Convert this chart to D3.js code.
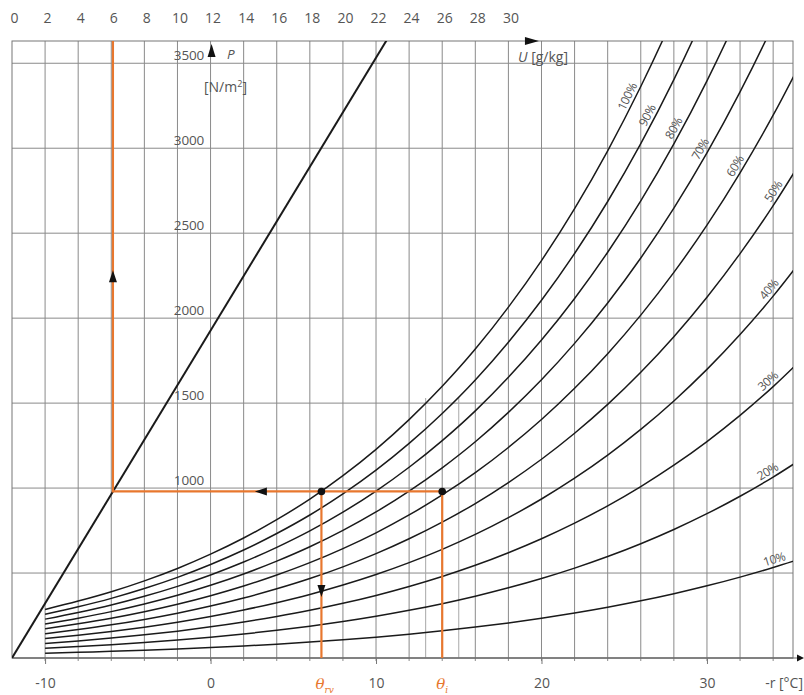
<!DOCTYPE html>
<html>
<head>
<meta charset="utf-8">
<script src="https://cdn.jsdelivr.net/npm/d3@7"></script>
<style>
  body { margin: 0; background: #fff; }
  svg text { font-family: "Open Sans", "DejaVu Sans", sans-serif; fill: #555; }
</style>
</head>
<body>
<svg id="chart" width="804" height="695"></svg>
<script>
// Saturation vapour pressure of water [N/m²] at 2 °C steps
const temperatures = [-10, -8, -6, -4, -2, 0, 2, 4, 6, 8, 10, 12, 14, 16, 18, 20, 22, 24, 26, 28, 30, 32, 34, 36];
const saturationPressure = [286, 335, 390, 454, 527, 611, 706, 814, 935, 1073, 1228, 1403, 1599, 1818, 2065, 2339, 2645, 2985, 3363, 3782, 4246, 4759, 5324, 5947];

// Relative humidity curves [%] and where their labels sit (°C)
const humidityLevels = [100, 90, 80, 70, 60, 50, 40, 30, 20, 10];
const humidityLabelAt = [25.6, 26.8, 28.4, 30.0, 32.1, 34.4, 34.1, 34.0, 33.9, 34.2];

// Axis ticks
const pressureTicks = [1000, 1500, 2000, 2500, 3000, 3500];
const temperatureTicks = [-10, 0, 10, 20, 30];
const ratioTicks = [0, 2, 4, 6, 8, 10, 12, 14, 16, 18, 20, 22, 24, 26, 28, 30];

// Vapour pressure against humidity ratio U [g/kg] -> P [N/m²]
const ratioLineU = [0, 22.7];
const ratioLineP = [0, 3645];

// Worked example: humidity ratio, vapour pressure, dew point, air temperature
const exampleRatio = 6.1;
const examplePressure = 980;
const exampleDewPoint = 6.7;
const exampleAirTemp = 14;

const svg = d3.select("#chart");
const L = 12, R = 793, T = 41, B = 658;
const orange = "#e8772e";
const plain = d => String(d);

const x = d3.scaleLinear().domain([-12, 35.2]).range([L, R]);
const u = d3.scaleLinear().domain([0, 47.2]).range([L, R]);
const y = d3.scaleLinear().domain([0, 3631]).range([B, T]);

svg.append("defs").append("clipPath").attr("id", "plot")
  .append("rect").attr("x", L).attr("y", T).attr("width", R - L).attr("height", B - T);

// Grid
const grid = svg.append("g").attr("stroke", "#8a8a8a").attr("stroke-width", 1);
grid.selectAll("line.v").data(d3.range(-10, 35, 2)).join("line")
  .attr("x1", d => x(d)).attr("x2", d => x(d)).attr("y1", T).attr("y2", B + 3);
grid.selectAll("line.h").data(d3.range(0, 3501, 500)).join("line")
  .attr("x1", L).attr("x2", R).attr("y1", d => y(d)).attr("y2", d => y(d));
grid.selectAll("line.e").data([13, 15]).join("line")
  .attr("stroke", "#a8a8a8")
  .attr("x1", d => x(d)).attr("x2", d => x(d)).attr("y1", y(1530)).attr("y2", B);
svg.append("rect").attr("x", L).attr("y", T).attr("width", R - L).attr("height", B - T)
  .attr("fill", "none").attr("stroke", "#777").attr("stroke-width", 1);
svg.append("line").attr("x1", L).attr("x2", 800).attr("y1", B).attr("y2", B)
  .attr("stroke", "#666").attr("stroke-width", 1.2);
svg.append("path").attr("d", `M797,${B - 3.5}L804,${B}L797,${B + 3.5}Z`).attr("fill", "#111");

// Relative humidity curves
const curveLine = d3.line().x(d => x(d[0])).y(d => y(d[1])).curve(d3.curveMonotoneX);
const plot = svg.append("g").attr("clip-path", "url(#plot)");
plot.selectAll("path.rh").data(humidityLevels).join("path")
  .attr("fill", "none").attr("stroke", "#1a1a1a").attr("stroke-width", 1.5)
  .attr("d", rh => curveLine(temperatures.map((t, i) => [t, saturationPressure[i] * rh / 100])));

// Straight vapour pressure / humidity ratio line
plot.append("path")
  .attr("fill", "none").attr("stroke", "#1a1a1a").attr("stroke-width", 2)
  .attr("d", d3.line().x(d => u(d[0])).y(d => y(d[1]))(ratioLineU.map((v, i) => [v, ratioLineP[i]])));

// Pressure on a curve at an arbitrary temperature (for label placement)
function curveAt(rh, t) {
  const i = Math.max(0, Math.min(temperatures.length - 2, Math.floor((t - temperatures[0]) / 2)));
  const f = (t - temperatures[i]) / (temperatures[i + 1] - temperatures[i]);
  return rh / 100 * saturationPressure[i] * Math.pow(saturationPressure[i + 1] / saturationPressure[i], f);
}
svg.append("g").selectAll("text").data(humidityLevels).join("text")
  .attr("font-size", 12).attr("letter-spacing", -0.5).attr("text-anchor", "middle")
  .attr("transform", (rh, i) => {
    const t = humidityLabelAt[i];
    const px = x(t), py = y(curveAt(rh, t));
    const ang = Math.atan2(y(curveAt(rh, t + 0.2)) - y(curveAt(rh, t - 0.2)), x(t + 0.2) - x(t - 0.2)) * 180 / Math.PI;
    return `translate(${px},${py}) rotate(${ang})`;
  })
  .attr("dy", -3.5)
  .text(rh => rh + "%");

// Top axis: humidity ratio U
const topAxis = svg.append("g").attr("transform", "translate(2,23)")
  .call(d3.axisTop(u).tickValues(ratioTicks).tickFormat(plain).tickSize(0).tickPadding(0));
topAxis.select(".domain").remove();
topAxis.selectAll("text").attr("font-size", 14).attr("fill", "#555").style("font-family", '"Open Sans", sans-serif');

// Bottom axis: temperature
const bottomAxis = svg.append("g").attr("transform", `translate(0,${B})`)
  .call(d3.axisBottom(x).tickValues(temperatureTicks).tickFormat(plain).tickSizeInner(6).tickSizeOuter(0).tickPadding(14));
bottomAxis.select(".domain").remove();
bottomAxis.selectAll("line").attr("stroke", "#777");
bottomAxis.selectAll("text").attr("font-size", 14).attr("fill", "#555").style("font-family", '"Open Sans", sans-serif');

// Pressure labels next to the 0 °C line
const leftAxis = svg.append("g").attr("transform", `translate(${x(-0.4)},0)`)
  .call(d3.axisLeft(y).tickValues(pressureTicks).tickFormat(plain).tickSize(0).tickPadding(0));
leftAxis.select(".domain").remove();
leftAxis.selectAll("text").attr("dy", "-0.25em").attr("font-size", 13.5).attr("letter-spacing", -0.2)
  .attr("fill", "#555").style("font-family", '"Open Sans", sans-serif');

// Axis names and arrows
svg.append("path").attr("d", `M${x(0) + 1},44L${x(0) + 5},57L${x(0) - 3},57Z`).attr("fill", "#111");
svg.append("text").attr("x", 227).attr("y", 59).attr("font-size", 13.5).attr("font-style", "italic").text("P");
svg.append("text").attr("x", 204).attr("y", 92).attr("font-size", 14).attr("letter-spacing", 0)
  .html('[N/m<tspan dy="-5" font-size="9">2</tspan><tspan dy="5">]</tspan>');
svg.append("path").attr("d", `M${u(31)},37L${u(31) + 14},${T}L${u(31)},45Z`).attr("fill", "#111");
svg.append("text").attr("x", 518).attr("y", 62).attr("font-size", 14).attr("letter-spacing", 0)
  .html('<tspan font-style="italic">U</tspan> [g/kg]');
svg.append("text").attr("x", 803).attr("y", 688).attr("font-size", 14).attr("text-anchor", "end").text("-r [°C]");

// Worked example path
const ex = svg.append("g").attr("stroke", orange).attr("stroke-width", 2.2).attr("fill", "none");
ex.append("path").attr("d",
  `M${u(exampleRatio)},${T}V${y(examplePressure)}H${x(exampleAirTemp)}V${B}`);
ex.append("path").attr("d", `M${x(exampleDewPoint)},${y(examplePressure)}V${B}`);

const arrows = svg.append("g").attr("fill", "#111");
const ax = u(exampleRatio), ay = y(2240);
arrows.append("path").attr("d", `M${ax},${ay - 7}L${ax + 4},${ay + 5}L${ax - 4},${ay + 5}Z`);
const lx = x(3.1), ly = y(examplePressure);
arrows.append("path").attr("d", `M${lx - 7},${ly}L${lx + 5},${ly - 4}L${lx + 5},${ly + 4}Z`);
const dx = x(exampleDewPoint), dy = y(400);
arrows.append("path").attr("d", `M${dx},${dy + 7}L${dx + 4},${dy - 5}L${dx - 4},${dy - 5}Z`);

svg.append("g").attr("fill", "#111").selectAll("circle")
  .data([exampleDewPoint, exampleAirTemp]).join("circle")
  .attr("cx", d => x(d)).attr("cy", y(examplePressure)).attr("r", 3.8);

// Temperature markers on the bottom axis
const thetaLabels = [[exampleDewPoint, "rv"], [exampleAirTemp, "i"]];
svg.append("g").selectAll("text").data(thetaLabels).join("text")
  .attr("x", d => x(d[0]) - 6).attr("y", 689).attr("font-size", 15)
  .style("fill", orange).style("font-family", '"DejaVu Serif", serif').attr("font-style", "italic")
  .html(d => `θ<tspan dy="4" font-size="9">${d[1]}</tspan>`);
</script>
</body>
</html>
